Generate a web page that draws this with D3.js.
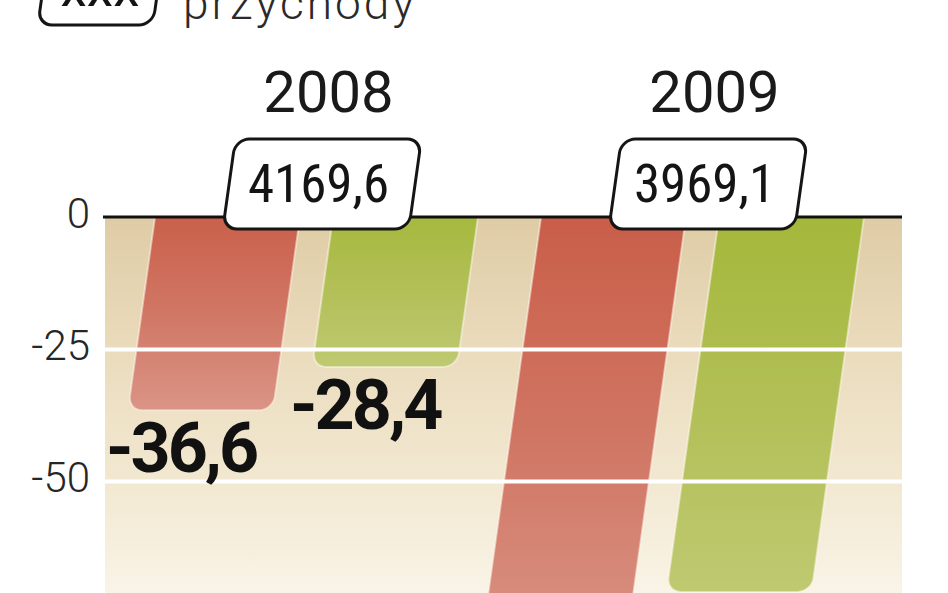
<!DOCTYPE html>
<html><head><meta charset="utf-8">
<script src="https://cdn.jsdelivr.net/npm/d3@7/dist/d3.min.js"></script>
<style>
html,body{margin:0;padding:0;background:#fff;overflow:hidden;}
svg{display:block;}
</style></head>
<body>
<svg id="chart" width="948" height="593"></svg>
<script>
// ---- data ----
const years = ["2008", "2009"];
const seriesKeys = ["seria1", "seria2"];
const series1Values = [-36.6, -83.0];   // red bars
const series2Values = [-28.4, -71.0];   // green bars
const revenue = [4169.6, 3969.1];        // "przychody" boxes
const yTicks = [0, -25, -50, -75];
const legendSample = "xxx";
const legendLabel = "przychody";

// ---- setup ----
const W = 948, H = 593;
const svg = d3.select("#chart");
const defs = svg.append("defs");
const pl = d3.formatLocale({decimal: ",", thousands: " ", grouping: [3], currency: ["", " zł"], minus: "-"});
const fmt = pl.format(".1f");

const plotL = 105, plotR = 902;
const y = d3.scaleLinear().domain([0, -75]).range([217, 613]);
const y0 = y(0);
const x0 = d3.scaleBand().domain(years).range([123.5, 895.5]).paddingInner(0.1632).paddingOuter(0.0816);
const x1 = d3.scaleBand().domain(seriesKeys).range([0, x0.bandwidth()]).paddingInner(0.1854);
const tanA = 0.14;
const skewDeg = -Math.atan(tanA) * 180 / Math.PI;
const skewAt = (x, yy) => x - tanA * (yy - y0);
const skewT = `translate(0,${y0}) skewX(${skewDeg}) translate(0,${-y0})`;

const data = years.map((yr, i) => ({year: yr, revenue: revenue[i],
  vals: [{key: seriesKeys[0], v: series1Values[i]}, {key: seriesKeys[1], v: series2Values[i]}]}));

// gradients
function vgrad(id, stops, units) {
  const g = defs.append("linearGradient").attr("id", id).attr("x1", 0).attr("y1", 0).attr("x2", 0).attr("y2", 1);
  if (units) g.attr("gradientUnits", "userSpaceOnUse").attr("y1", units[0]).attr("y2", units[1]);
  stops.forEach(s => g.append("stop").attr("offset", s[0]).attr("stop-color", s[1]));
}
vgrad("bg", [[0, "#dfcca6"], [0.35, "#eadbbc"], [0.7, "#f2e8d1"], [1, "#f9f4e7"]], [y0, H]);
vgrad("gRed", [[0, "#c85c46"], [0.5, "#d07462"], [1, "#da9485"]]);
vgrad("gGreen", [[0, "#a3b737"], [0.5, "#b1bf55"], [1, "#bfc971"]]);
const fills = {seria1: "url(#gRed)", seria2: "url(#gGreen)"};

defs.append("clipPath").attr("id", "plotClip").append("rect")
  .attr("x", plotL).attr("y", y0).attr("width", plotR - plotL).attr("height", H - y0 + 50);

// background
svg.append("rect").attr("x", plotL).attr("y", y0).attr("width", plotR - plotL).attr("height", H - y0 + 50)
  .attr("fill", "url(#bg)");

// bars
const barsOuter = svg.append("g").attr("clip-path", "url(#plotClip)");
const barsG = barsOuter.append("g").attr("transform", skewT);
const groups = barsG.selectAll("g.grp").data(data).join("g").attr("class", "grp")
  .attr("transform", d => `translate(${x0(d.year)},0)`);
groups.selectAll("rect").data(d => d.vals).join("rect")
  .attr("x", d => x1(d.key))
  .attr("y", y0 - 20)
  .attr("width", x1.bandwidth())
  .attr("height", d => y(d.v) - y0 + 20)
  .attr("rx", 14)
  .attr("fill", d => fills[d.key])
  .attr("stroke", "rgba(255,250,240,0.5)")
  .attr("stroke-width", 2);

// grid + axis
const axis = d3.axisLeft(y).tickValues(yTicks).tickSize(-(plotR - plotL)).tickPadding(15)
  .tickFormat(d => String(d));
const axG = svg.append("g").attr("transform", `translate(${plotL},0)`).call(axis);
axG.select(".domain").remove();
axG.selectAll(".tick line").attr("stroke", d => d === 0 ? "none" : "#ffffff").attr("stroke-width", 4);
axG.selectAll(".tick text").attr("font-family", "Roboto, sans-serif").attr("font-weight", 300)
  .attr("font-size", 42).attr("fill", d => y(d) > H - 20 ? "#e6e6e6" : "#262626")
  .attr("dy", "0.32em").attr("transform", "translate(0,-3)");

// zero line
svg.append("line").attr("x1", plotL - 2).attr("x2", plotR).attr("y1", y0).attr("y2", y0)
  .attr("stroke", "#111").attr("stroke-width", 3);

// value labels (only those that fall inside the picture)
const labG = svg.append("g");
data.forEach(d => d.vals.forEach(b => {
  const bx = x0(d.year) + x1(b.key);
  const ly = y(b.v) + 62;
  if (ly > H) return;
  labG.append("text")
    .attr("x", skewAt(bx, y(b.v)) - 22)
    .attr("y", ly)
    .attr("font-family", "Roboto, sans-serif").attr("font-weight", 700)
    .attr("font-size", 70).attr("fill", "#111").attr("letter-spacing", -3)
    .text(fmt(b.v));
}));

// year labels
svg.append("g").selectAll("text").data(data).join("text")
  .attr("x", d => x0(d.year) + x0.bandwidth() / 2 + 12)
  .attr("y", 112)
  .attr("text-anchor", "middle")
  .attr("font-family", "Roboto, sans-serif").attr("font-weight", 400)
  .attr("font-size", 58).attr("fill", "#1a1a1a")
  .text(d => d.year);

// revenue boxes
const boxG = svg.append("g");
boxG.append("g").attr("transform", skewT).selectAll("rect").data(data).join("rect")
  .attr("x", d => x0(d.year) + x0.bandwidth() / 2 + 1 - 93)
  .attr("y", 139).attr("width", 186).attr("height", 90).attr("rx", 14)
  .attr("fill", "#fff").attr("stroke", "#151515").attr("stroke-width", 3);
boxG.selectAll("text").data(data).join("text")
  .attr("x", d => x0(d.year) + x0.bandwidth() / 2 + 2)
  .attr("y", 202)
  .attr("text-anchor", "middle")
  .attr("font-family", "'Liberation Sans Narrow', 'Roboto Condensed', Roboto, sans-serif")
  .attr("font-weight", 400).attr("font-size", 53).attr("fill", "#141414")
  .text(d => fmt(d.revenue));

// legend (cut at top)
const legG = svg.append("g");
legG.append("g").attr("transform", skewT).append("rect")
  .attr("x", 11).attr("y", -65).attr("width", 115).attr("height", 90).attr("rx", 14)
  .attr("fill", "#fff").attr("stroke", "#151515").attr("stroke-width", 3);
legG.append("text").attr("x", 100).attr("y", 6).attr("text-anchor", "middle")
  .attr("font-family", "'Liberation Sans Narrow', Roboto, sans-serif").attr("font-size", 53).attr("fill", "#141414")
  .text(legendSample);
legG.append("text").attr("x", 183).attr("y", 19)
  .attr("font-family", "Roboto, sans-serif").attr("font-weight", 300).attr("font-size", 46)
  .attr("letter-spacing", 3).attr("fill", "#2a2a2a")
  .text(legendLabel);
</script>
</body></html>
